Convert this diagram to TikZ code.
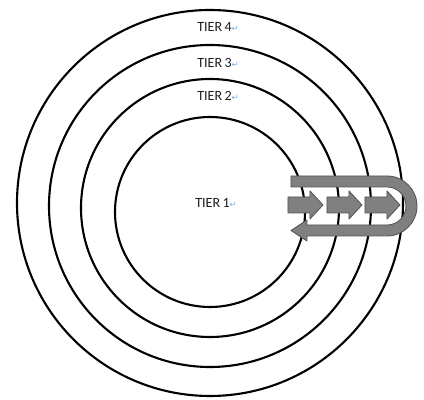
\documentclass[tikz,border=0pt]{standalone}
\usepackage{fontspec}
\setmainfont{Carlito}
\newfontfamily\symfont{DejaVu Sans}
\usepackage{xcolor}
\definecolor{tgray}{RGB}{128,128,128}
\definecolor{tedge}{RGB}{85,85,85}
\definecolor{tmark}{RGB}{120,175,225}
\definecolor{ttext}{RGB}{30,30,30}
\usetikzlibrary{positioning}
\newcommand{\pmark}{\textcolor{tmark}{\symfont\fontsize{6}{7}\selectfont ↵}}

\begin{document}
\begin{tikzpicture}[x=0.025cm, y=-0.025cm,
  ring/.style={draw=black, line width=1.5pt},
  tlabel/.style={font=\fontsize{10}{12}\selectfont, text=ttext, inner sep=1pt},
  band/.style={fill=tgray, draw=tedge, line width=0.6pt, line join=round}
]
\useasboundingbox (0,0) rectangle (424,400);

% Tier rings
\draw[ring] (210,203) circle (193);
\draw[ring] (210,206) circle (161);
\draw[ring] (210,208) circle (129);
\draw[ring] (210,212) circle (95);

% Tier labels
\node[tlabel] (t4) at (218,27)  {TIER\,4\pmark};
\node[tlabel] (t3) at (218,63)  {TIER\,3\pmark};
\node[tlabel] (t2) at (218,96)  {TIER\,2\pmark};
\node[tlabel] (t1) at (216,203) {TIER\,1\pmark};

% U-turn band arrow
\draw[band] (291,176) -- (387,176) arc[start angle=-90, end angle=90, radius=30]
  -- (307,236) -- (307,241) -- (291,230.5) -- (307,220) -- (307,225)
  -- (387,225) arc[start angle=90, end angle=-90, radius=19]
  -- (291,187) -- cycle;

% Small block arrows
\foreach \x in {288,327,365}
  \draw[band] (\x,197) -- (\x+22,197) -- (\x+22,191) -- (\x+35,205)
    -- (\x+22,219) -- (\x+22,213) -- (\x,213) -- cycle;
\end{tikzpicture}
\end{document}
